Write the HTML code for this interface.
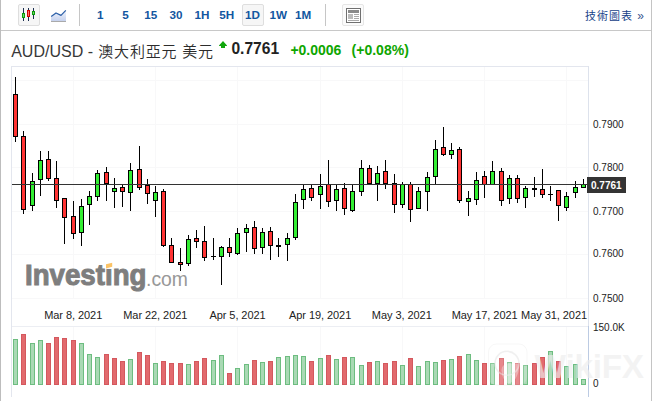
<!DOCTYPE html>
<html><head><meta charset="utf-8"><title>AUD/USD</title>
<style>
html,body{margin:0;padding:0;background:#fff;}
body{width:653px;height:401px;position:relative;overflow:hidden;font-family:"Liberation Sans","Noto Sans CJK TC",sans-serif;}
.abs{position:absolute;white-space:nowrap;}
.tb{position:absolute;top:8px;font-size:11.7px;font-weight:bold;color:#1256a0;line-height:14px;white-space:nowrap;}
.btn{position:absolute;box-sizing:border-box;top:4px;height:22px;width:22px;border:1px solid #dedede;border-radius:2px;background:#f6f6f6;}
.ylab{position:absolute;left:593px;font-size:10px;line-height:10px;color:#222;}
.xlab{position:absolute;top:309px;font-size:11px;line-height:12px;color:#222;letter-spacing:-0.06px;transform:translateX(-50%);white-space:nowrap;}
</style></head><body>
<div class="abs" style="left:0;top:0;width:1px;height:401px;background:#bdbdbd"></div>
<div class="abs" style="left:651px;top:0;width:1px;height:401px;background:#c4c4c4"></div>
<div class="abs" style="left:1px;top:30px;width:650px;height:1px;background:#c8c8c8"></div>
<!-- toolbar -->
<div class="btn" style="left:18px"></div>
<div class="btn" style="left:242px"></div>
<div class="btn" style="left:342px;background:#fbfbfb;border-color:#e6e6e6"></div>
<div class="abs" style="left:79px;top:4px;width:1px;height:22px;background:#c6c6c6"></div>
<div class="abs" style="left:325px;top:4px;width:1px;height:22px;background:#c6c6c6"></div>
<svg class="abs" style="left:0;top:0" width="653" height="31" shape-rendering="crispEdges">
 <g fill="#1c2f50"><rect x="23" y="8" width="1" height="13"/><rect x="28" y="8" width="1" height="13"/><rect x="33" y="8" width="1" height="11"/></g>
 <rect x="22" y="13" width="3" height="5" fill="#0a9a0a"/><rect x="23" y="14" width="1" height="3" fill="#6fd36f"/>
 <rect x="27" y="10" width="3" height="7" fill="#d40000"/><rect x="28" y="11" width="1" height="5" fill="#ff7070"/>
 <rect x="32" y="11" width="3" height="4" fill="#0a9a0a"/><rect x="33" y="12" width="1" height="2" fill="#6fd36f"/>
 <g shape-rendering="auto">
 <defs><linearGradient id="lg" x1="0" y1="0" x2="0" y2="1"><stop offset="0" stop-color="#f1f4fb"/><stop offset="1" stop-color="#c6d2ee"/></linearGradient></defs>
 <path d="M51 21 L51 16.4 L56 13 L61 15.4 L66 10.4 L66 21 Z" fill="url(#lg)"/>
 <rect x="51" y="21" width="15" height="1" fill="#aaa"/>
 <path d="M51.2 16.4 L56 13 L61 15.4 L65.8 10.4" fill="none" stroke="#2c5fa8" stroke-width="1.25" stroke-linejoin="round"/>
 </g>
 <rect x="346" y="8" width="15" height="15" fill="#707070"/><rect x="347" y="9" width="13" height="13" fill="#fff"/>
 <rect x="348" y="10" width="11" height="3" fill="#8a8a8a"/>
 <rect x="348" y="14" width="5" height="5" fill="#bcbcbc"/>
 <rect x="354" y="14" width="5" height="1" fill="#aaa"/><rect x="354" y="16" width="5" height="1" fill="#aaa"/><rect x="354" y="18" width="5" height="1" fill="#aaa"/>
 <rect x="348" y="20" width="11" height="1" fill="#aaa"/>
</svg>
<div class="tb" style="left:97.1px">1</div>
<div class="tb" style="left:122.3px">5</div>
<div class="tb" style="left:144.3px">15</div>
<div class="tb" style="left:169.4px">30</div>
<div class="tb" style="left:194.6px">1H</div>
<div class="tb" style="left:219.3px">5H</div>
<div class="tb" style="left:245.1px">1D</div>
<div class="tb" style="left:269.4px">1W</div>
<div class="tb" style="left:295.1px">1M</div>
<div class="abs" style="left:585px;top:7.9px;font-size:11px;letter-spacing:1px;line-height:16px;color:#163f88;">技術圖表<span style="letter-spacing:0;font-size:12px;color:#3a5590;margin-left:4.3px;position:relative;top:-0.3px">»</span></div>
<!-- title -->
<div class="abs" style="left:11.2px;top:41.5px;font-size:16px;line-height:20px;color:#383838;">AUD/USD - <span style="font-size:15px;font-weight:350;letter-spacing:0.8px;position:relative;top:0.8px;left:0.9px;color:#2c2c2c">澳大利亞元 美元</span></div>
<svg class="abs" style="left:219px;top:41px" width="8" height="7"><path d="M4 0 L8 4.4 L8 5 L6 5 L6 7 L2 7 L2 5 L0 5 L0 4.4 Z" fill="#10a60c"/></svg>
<div class="abs" style="left:231.4px;top:38.7px;font-size:15.6px;line-height:20px;font-weight:bold;color:#222;">0.7761</div>
<div class="abs" style="left:290.4px;top:41.5px;font-size:14px;line-height:16px;font-weight:bold;color:#0ea600;">+0.0006</div>
<div class="abs" style="left:351.6px;top:41.5px;font-size:14px;line-height:16px;font-weight:bold;color:#0ea600;">(+0.08%)</div>
<!-- chart -->
<svg class="abs" style="left:0;top:0" width="653" height="401" shape-rendering="crispEdges">
<rect x="12" y="80" width="576" height="1" fill="#f8f8f9"/>
<rect x="12" y="124" width="576" height="1" fill="#f8f8f9"/>
<rect x="12" y="167" width="576" height="1" fill="#f8f8f9"/>
<rect x="12" y="211" width="576" height="1" fill="#f8f8f9"/>
<rect x="12" y="254" width="576" height="1" fill="#f8f8f9"/>
<rect x="12" y="298" width="576" height="1" fill="#f8f8f9"/>
<rect x="73" y="67" width="1" height="231" fill="#f8f8f9"/>
<rect x="73" y="327" width="1" height="58" fill="#f8f8f9"/>
<rect x="155" y="67" width="1" height="231" fill="#f8f8f9"/>
<rect x="155" y="327" width="1" height="58" fill="#f8f8f9"/>
<rect x="237" y="67" width="1" height="231" fill="#f8f8f9"/>
<rect x="237" y="327" width="1" height="58" fill="#f8f8f9"/>
<rect x="320" y="67" width="1" height="231" fill="#f8f8f9"/>
<rect x="320" y="327" width="1" height="58" fill="#f8f8f9"/>
<rect x="402" y="67" width="1" height="231" fill="#f8f8f9"/>
<rect x="402" y="327" width="1" height="58" fill="#f8f8f9"/>
<rect x="484" y="67" width="1" height="231" fill="#f8f8f9"/>
<rect x="484" y="327" width="1" height="58" fill="#f8f8f9"/>
<rect x="566" y="67" width="1" height="231" fill="#f8f8f9"/>
<rect x="566" y="327" width="1" height="58" fill="#f8f8f9"/>
<rect x="11" y="66" width="578" height="1" fill="#e3e6ee"/>
<rect x="11" y="66" width="1" height="331" fill="#e3e6ee"/>
<rect x="588" y="66" width="1" height="260" fill="#dde2ec"/>
<rect x="588" y="326" width="1" height="71" fill="#bccbe3"/>
<rect x="12" y="326" width="576" height="1" fill="#eceef3"/>
<rect x="15" y="77" width="1" height="65" fill="#000"/>
<rect x="13" y="94" width="5" height="43" fill="#000"/>
<rect x="14" y="95" width="3" height="41" fill="#ff3333"/>
<rect x="23" y="131" width="1" height="83" fill="#000"/>
<rect x="21" y="136" width="5" height="74" fill="#000"/>
<rect x="22" y="137" width="3" height="72" fill="#ff3333"/>
<rect x="32" y="173" width="1" height="38" fill="#000"/>
<rect x="30" y="181" width="5" height="25" fill="#000"/>
<rect x="31" y="182" width="3" height="23" fill="#33ee33"/>
<rect x="40" y="151" width="1" height="45" fill="#000"/>
<rect x="38" y="160" width="5" height="20" fill="#000"/>
<rect x="39" y="161" width="3" height="18" fill="#33ee33"/>
<rect x="48" y="151" width="1" height="30" fill="#000"/>
<rect x="46" y="159" width="5" height="20" fill="#000"/>
<rect x="47" y="160" width="3" height="18" fill="#ff3333"/>
<rect x="56" y="161" width="1" height="47" fill="#000"/>
<rect x="54" y="178" width="5" height="23" fill="#000"/>
<rect x="55" y="179" width="3" height="21" fill="#ff3333"/>
<rect x="64" y="198" width="1" height="46" fill="#000"/>
<rect x="62" y="198" width="5" height="20" fill="#000"/>
<rect x="63" y="199" width="3" height="18" fill="#ff3333"/>
<rect x="73" y="201" width="1" height="38" fill="#000"/>
<rect x="71" y="216" width="5" height="18" fill="#000"/>
<rect x="72" y="217" width="3" height="16" fill="#ff3333"/>
<rect x="81" y="199" width="1" height="47" fill="#000"/>
<rect x="79" y="206" width="5" height="27" fill="#000"/>
<rect x="80" y="207" width="3" height="25" fill="#33ee33"/>
<rect x="89" y="191" width="1" height="34" fill="#000"/>
<rect x="87" y="196" width="5" height="9" fill="#000"/>
<rect x="88" y="197" width="3" height="7" fill="#33ee33"/>
<rect x="97" y="170" width="1" height="31" fill="#000"/>
<rect x="95" y="173" width="5" height="24" fill="#000"/>
<rect x="96" y="174" width="3" height="22" fill="#33ee33"/>
<rect x="106" y="167" width="1" height="34" fill="#000"/>
<rect x="104" y="172" width="5" height="12" fill="#000"/>
<rect x="105" y="173" width="3" height="10" fill="#ff3333"/>
<rect x="114" y="178" width="1" height="30" fill="#000"/>
<rect x="112" y="188" width="5" height="4" fill="#000"/>
<rect x="113" y="189" width="3" height="2" fill="#33ee33"/>
<rect x="122" y="185" width="1" height="22" fill="#000"/>
<rect x="120" y="187" width="5" height="5" fill="#000"/>
<rect x="121" y="188" width="3" height="3" fill="#ff3333"/>
<rect x="130" y="163" width="1" height="48" fill="#000"/>
<rect x="128" y="170" width="5" height="23" fill="#000"/>
<rect x="129" y="171" width="3" height="21" fill="#33ee33"/>
<rect x="139" y="146" width="1" height="44" fill="#000"/>
<rect x="137" y="169" width="5" height="19" fill="#000"/>
<rect x="138" y="170" width="3" height="17" fill="#ff3333"/>
<rect x="147" y="179" width="1" height="25" fill="#000"/>
<rect x="145" y="185" width="5" height="9" fill="#000"/>
<rect x="146" y="186" width="3" height="7" fill="#ff3333"/>
<rect x="155" y="186" width="1" height="31" fill="#000"/>
<rect x="153" y="192" width="5" height="9" fill="#000"/>
<rect x="154" y="193" width="3" height="7" fill="#33ee33"/>
<rect x="163" y="189" width="1" height="58" fill="#000"/>
<rect x="161" y="191" width="5" height="55" fill="#000"/>
<rect x="162" y="192" width="3" height="53" fill="#ff3333"/>
<rect x="171" y="238" width="1" height="25" fill="#000"/>
<rect x="169" y="245" width="5" height="18" fill="#000"/>
<rect x="170" y="246" width="3" height="16" fill="#ff3333"/>
<rect x="180" y="248" width="1" height="23" fill="#000"/>
<rect x="178" y="262" width="5" height="3" fill="#000"/>
<rect x="179" y="263" width="3" height="1" fill="#ff3333"/>
<rect x="188" y="235" width="1" height="31" fill="#000"/>
<rect x="186" y="239" width="5" height="25" fill="#000"/>
<rect x="187" y="240" width="3" height="23" fill="#33ee33"/>
<rect x="196" y="230" width="1" height="18" fill="#000"/>
<rect x="194" y="238" width="5" height="4" fill="#000"/>
<rect x="195" y="239" width="3" height="2" fill="#ff3333"/>
<rect x="204" y="226" width="1" height="35" fill="#000"/>
<rect x="202" y="241" width="5" height="17" fill="#000"/>
<rect x="203" y="242" width="3" height="15" fill="#ff3333"/>
<rect x="213" y="238" width="1" height="22" fill="#000"/>
<rect x="211" y="256" width="5" height="1" fill="#000"/>
<rect x="221" y="246" width="1" height="39" fill="#000"/>
<rect x="219" y="247" width="5" height="10" fill="#000"/>
<rect x="220" y="248" width="3" height="8" fill="#33ee33"/>
<rect x="229" y="238" width="1" height="19" fill="#000"/>
<rect x="227" y="247" width="5" height="6" fill="#000"/>
<rect x="228" y="248" width="3" height="4" fill="#ff3333"/>
<rect x="237" y="228" width="1" height="27" fill="#000"/>
<rect x="235" y="233" width="5" height="21" fill="#000"/>
<rect x="236" y="234" width="3" height="19" fill="#33ee33"/>
<rect x="246" y="224" width="1" height="28" fill="#000"/>
<rect x="244" y="228" width="5" height="5" fill="#000"/>
<rect x="245" y="229" width="3" height="3" fill="#33ee33"/>
<rect x="254" y="221" width="1" height="33" fill="#000"/>
<rect x="252" y="227" width="5" height="22" fill="#000"/>
<rect x="253" y="228" width="3" height="20" fill="#ff3333"/>
<rect x="262" y="228" width="1" height="26" fill="#000"/>
<rect x="260" y="232" width="5" height="16" fill="#000"/>
<rect x="261" y="233" width="3" height="14" fill="#33ee33"/>
<rect x="270" y="227" width="1" height="33" fill="#000"/>
<rect x="268" y="231" width="5" height="15" fill="#000"/>
<rect x="269" y="232" width="3" height="13" fill="#ff3333"/>
<rect x="278" y="238" width="1" height="19" fill="#000"/>
<rect x="276" y="245" width="5" height="2" fill="#000"/>
<rect x="287" y="233" width="1" height="28" fill="#000"/>
<rect x="285" y="238" width="5" height="7" fill="#000"/>
<rect x="286" y="239" width="3" height="5" fill="#33ee33"/>
<rect x="295" y="194" width="1" height="46" fill="#000"/>
<rect x="293" y="202" width="5" height="36" fill="#000"/>
<rect x="294" y="203" width="3" height="34" fill="#33ee33"/>
<rect x="303" y="184" width="1" height="25" fill="#000"/>
<rect x="301" y="189" width="5" height="11" fill="#000"/>
<rect x="302" y="190" width="3" height="9" fill="#33ee33"/>
<rect x="311" y="185" width="1" height="16" fill="#000"/>
<rect x="309" y="188" width="5" height="10" fill="#000"/>
<rect x="310" y="189" width="3" height="8" fill="#ff3333"/>
<rect x="320" y="174" width="1" height="35" fill="#000"/>
<rect x="318" y="186" width="5" height="9" fill="#000"/>
<rect x="319" y="187" width="3" height="7" fill="#33ee33"/>
<rect x="328" y="160" width="1" height="47" fill="#000"/>
<rect x="326" y="184" width="5" height="18" fill="#000"/>
<rect x="327" y="185" width="3" height="16" fill="#ff3333"/>
<rect x="336" y="184" width="1" height="27" fill="#000"/>
<rect x="334" y="189" width="5" height="12" fill="#000"/>
<rect x="335" y="190" width="3" height="10" fill="#33ee33"/>
<rect x="344" y="183" width="1" height="32" fill="#000"/>
<rect x="342" y="188" width="5" height="21" fill="#000"/>
<rect x="343" y="189" width="3" height="19" fill="#ff3333"/>
<rect x="352" y="184" width="1" height="28" fill="#000"/>
<rect x="350" y="191" width="5" height="20" fill="#000"/>
<rect x="351" y="192" width="3" height="18" fill="#33ee33"/>
<rect x="361" y="160" width="1" height="36" fill="#000"/>
<rect x="359" y="168" width="5" height="24" fill="#000"/>
<rect x="360" y="169" width="3" height="22" fill="#33ee33"/>
<rect x="369" y="165" width="1" height="19" fill="#000"/>
<rect x="367" y="168" width="5" height="16" fill="#000"/>
<rect x="368" y="169" width="3" height="14" fill="#ff3333"/>
<rect x="377" y="166" width="1" height="35" fill="#000"/>
<rect x="375" y="173" width="5" height="11" fill="#000"/>
<rect x="376" y="174" width="3" height="9" fill="#33ee33"/>
<rect x="385" y="160" width="1" height="29" fill="#000"/>
<rect x="383" y="171" width="5" height="13" fill="#000"/>
<rect x="384" y="172" width="3" height="11" fill="#ff3333"/>
<rect x="394" y="174" width="1" height="39" fill="#000"/>
<rect x="392" y="183" width="5" height="22" fill="#000"/>
<rect x="393" y="184" width="3" height="20" fill="#ff3333"/>
<rect x="402" y="182" width="1" height="26" fill="#000"/>
<rect x="400" y="184" width="5" height="21" fill="#000"/>
<rect x="401" y="185" width="3" height="19" fill="#33ee33"/>
<rect x="410" y="182" width="1" height="40" fill="#000"/>
<rect x="408" y="184" width="5" height="26" fill="#000"/>
<rect x="409" y="185" width="3" height="24" fill="#ff3333"/>
<rect x="418" y="187" width="1" height="22" fill="#000"/>
<rect x="416" y="191" width="5" height="18" fill="#000"/>
<rect x="417" y="192" width="3" height="16" fill="#33ee33"/>
<rect x="427" y="172" width="1" height="39" fill="#000"/>
<rect x="425" y="177" width="5" height="15" fill="#000"/>
<rect x="426" y="178" width="3" height="13" fill="#33ee33"/>
<rect x="435" y="140" width="1" height="44" fill="#000"/>
<rect x="433" y="149" width="5" height="28" fill="#000"/>
<rect x="434" y="150" width="3" height="26" fill="#33ee33"/>
<rect x="443" y="127" width="1" height="29" fill="#000"/>
<rect x="441" y="147" width="5" height="8" fill="#000"/>
<rect x="442" y="148" width="3" height="6" fill="#ff3333"/>
<rect x="451" y="143" width="1" height="16" fill="#000"/>
<rect x="449" y="150" width="5" height="5" fill="#000"/>
<rect x="450" y="151" width="3" height="3" fill="#33ee33"/>
<rect x="459" y="147" width="1" height="56" fill="#000"/>
<rect x="457" y="149" width="5" height="52" fill="#000"/>
<rect x="458" y="150" width="3" height="50" fill="#ff3333"/>
<rect x="468" y="191" width="1" height="25" fill="#000"/>
<rect x="466" y="198" width="5" height="4" fill="#000"/>
<rect x="467" y="199" width="3" height="2" fill="#33ee33"/>
<rect x="476" y="172" width="1" height="33" fill="#000"/>
<rect x="474" y="180" width="5" height="20" fill="#000"/>
<rect x="475" y="181" width="3" height="18" fill="#33ee33"/>
<rect x="484" y="171" width="1" height="27" fill="#000"/>
<rect x="482" y="176" width="5" height="9" fill="#000"/>
<rect x="483" y="177" width="3" height="7" fill="#ff3333"/>
<rect x="492" y="161" width="1" height="24" fill="#000"/>
<rect x="490" y="171" width="5" height="14" fill="#000"/>
<rect x="491" y="172" width="3" height="12" fill="#33ee33"/>
<rect x="501" y="168" width="1" height="38" fill="#000"/>
<rect x="499" y="171" width="5" height="30" fill="#000"/>
<rect x="500" y="172" width="3" height="28" fill="#ff3333"/>
<rect x="509" y="175" width="1" height="29" fill="#000"/>
<rect x="507" y="178" width="5" height="21" fill="#000"/>
<rect x="508" y="179" width="3" height="19" fill="#33ee33"/>
<rect x="517" y="175" width="1" height="28" fill="#000"/>
<rect x="515" y="178" width="5" height="21" fill="#000"/>
<rect x="516" y="179" width="3" height="19" fill="#ff3333"/>
<rect x="525" y="186" width="1" height="22" fill="#000"/>
<rect x="523" y="188" width="5" height="10" fill="#000"/>
<rect x="524" y="189" width="3" height="8" fill="#33ee33"/>
<rect x="534" y="177" width="1" height="20" fill="#000"/>
<rect x="532" y="188" width="5" height="2" fill="#000"/>
<rect x="542" y="169" width="1" height="29" fill="#000"/>
<rect x="540" y="189" width="5" height="6" fill="#000"/>
<rect x="541" y="190" width="3" height="4" fill="#ff3333"/>
<rect x="550" y="186" width="1" height="15" fill="#000"/>
<rect x="548" y="194" width="5" height="1" fill="#000"/>
<rect x="558" y="190" width="1" height="31" fill="#000"/>
<rect x="556" y="190" width="5" height="16" fill="#000"/>
<rect x="557" y="191" width="3" height="14" fill="#ff3333"/>
<rect x="566" y="192" width="1" height="19" fill="#000"/>
<rect x="564" y="196" width="5" height="12" fill="#000"/>
<rect x="565" y="197" width="3" height="10" fill="#33ee33"/>
<rect x="575" y="181" width="1" height="17" fill="#000"/>
<rect x="573" y="187" width="5" height="6" fill="#000"/>
<rect x="574" y="188" width="3" height="4" fill="#33ee33"/>
<rect x="583" y="179" width="1" height="9" fill="#000"/>
<rect x="581" y="184" width="5" height="4" fill="#000"/>
<rect x="582" y="185" width="3" height="2" fill="#33ee33"/>
<rect x="12" y="184" width="576" height="1" fill="#333"/>
<rect x="13" y="339" width="5" height="46" fill="#6dbd80"/>
<rect x="14" y="340" width="3" height="44" fill="#a9d9b4"/>
<rect x="21" y="334" width="5" height="51" fill="#d4585e"/>
<rect x="22" y="335" width="3" height="49" fill="#e26a6e"/>
<rect x="30" y="343" width="5" height="42" fill="#6dbd80"/>
<rect x="31" y="344" width="3" height="40" fill="#a9d9b4"/>
<rect x="38" y="340" width="5" height="45" fill="#6dbd80"/>
<rect x="39" y="341" width="3" height="43" fill="#a9d9b4"/>
<rect x="46" y="343" width="5" height="42" fill="#d4585e"/>
<rect x="47" y="344" width="3" height="40" fill="#e26a6e"/>
<rect x="54" y="337" width="5" height="48" fill="#d4585e"/>
<rect x="55" y="338" width="3" height="46" fill="#e26a6e"/>
<rect x="62" y="338" width="5" height="47" fill="#d4585e"/>
<rect x="63" y="339" width="3" height="45" fill="#e26a6e"/>
<rect x="71" y="340" width="5" height="45" fill="#d4585e"/>
<rect x="72" y="341" width="3" height="43" fill="#e26a6e"/>
<rect x="79" y="343" width="5" height="42" fill="#6dbd80"/>
<rect x="80" y="344" width="3" height="40" fill="#a9d9b4"/>
<rect x="87" y="354" width="5" height="31" fill="#6dbd80"/>
<rect x="88" y="355" width="3" height="29" fill="#a9d9b4"/>
<rect x="95" y="357" width="5" height="28" fill="#6dbd80"/>
<rect x="96" y="358" width="3" height="26" fill="#a9d9b4"/>
<rect x="104" y="354" width="5" height="31" fill="#d4585e"/>
<rect x="105" y="355" width="3" height="29" fill="#e26a6e"/>
<rect x="112" y="358" width="5" height="27" fill="#d4585e"/>
<rect x="113" y="359" width="3" height="25" fill="#e26a6e"/>
<rect x="120" y="361" width="5" height="24" fill="#d4585e"/>
<rect x="121" y="362" width="3" height="22" fill="#e26a6e"/>
<rect x="128" y="359" width="5" height="26" fill="#6dbd80"/>
<rect x="129" y="360" width="3" height="24" fill="#a9d9b4"/>
<rect x="137" y="352" width="5" height="33" fill="#d4585e"/>
<rect x="138" y="353" width="3" height="31" fill="#e26a6e"/>
<rect x="145" y="355" width="5" height="30" fill="#d4585e"/>
<rect x="146" y="356" width="3" height="28" fill="#e26a6e"/>
<rect x="153" y="363" width="5" height="22" fill="#6dbd80"/>
<rect x="154" y="364" width="3" height="20" fill="#a9d9b4"/>
<rect x="161" y="361" width="5" height="24" fill="#d4585e"/>
<rect x="162" y="362" width="3" height="22" fill="#e26a6e"/>
<rect x="169" y="363" width="5" height="22" fill="#d4585e"/>
<rect x="170" y="364" width="3" height="20" fill="#e26a6e"/>
<rect x="178" y="363" width="5" height="22" fill="#d4585e"/>
<rect x="179" y="364" width="3" height="20" fill="#e26a6e"/>
<rect x="186" y="364" width="5" height="21" fill="#6dbd80"/>
<rect x="187" y="365" width="3" height="19" fill="#a9d9b4"/>
<rect x="194" y="361" width="5" height="24" fill="#d4585e"/>
<rect x="195" y="362" width="3" height="22" fill="#e26a6e"/>
<rect x="202" y="358" width="5" height="27" fill="#d4585e"/>
<rect x="203" y="359" width="3" height="25" fill="#e26a6e"/>
<rect x="211" y="360" width="5" height="25" fill="#6dbd80"/>
<rect x="212" y="361" width="3" height="23" fill="#a9d9b4"/>
<rect x="219" y="355" width="5" height="30" fill="#6dbd80"/>
<rect x="220" y="356" width="3" height="28" fill="#a9d9b4"/>
<rect x="227" y="373" width="5" height="12" fill="#d4585e"/>
<rect x="228" y="374" width="3" height="10" fill="#e26a6e"/>
<rect x="235" y="368" width="5" height="17" fill="#6dbd80"/>
<rect x="236" y="369" width="3" height="15" fill="#a9d9b4"/>
<rect x="244" y="364" width="5" height="21" fill="#6dbd80"/>
<rect x="245" y="365" width="3" height="19" fill="#a9d9b4"/>
<rect x="252" y="360" width="5" height="25" fill="#d4585e"/>
<rect x="253" y="361" width="3" height="23" fill="#e26a6e"/>
<rect x="260" y="362" width="5" height="23" fill="#6dbd80"/>
<rect x="261" y="363" width="3" height="21" fill="#a9d9b4"/>
<rect x="268" y="361" width="5" height="24" fill="#d4585e"/>
<rect x="269" y="362" width="3" height="22" fill="#e26a6e"/>
<rect x="276" y="357" width="5" height="28" fill="#6dbd80"/>
<rect x="277" y="358" width="3" height="26" fill="#a9d9b4"/>
<rect x="285" y="356" width="5" height="29" fill="#6dbd80"/>
<rect x="286" y="357" width="3" height="27" fill="#a9d9b4"/>
<rect x="293" y="355" width="5" height="30" fill="#6dbd80"/>
<rect x="294" y="356" width="3" height="28" fill="#a9d9b4"/>
<rect x="301" y="356" width="5" height="29" fill="#6dbd80"/>
<rect x="302" y="357" width="3" height="27" fill="#a9d9b4"/>
<rect x="309" y="361" width="5" height="24" fill="#d4585e"/>
<rect x="310" y="362" width="3" height="22" fill="#e26a6e"/>
<rect x="318" y="358" width="5" height="27" fill="#6dbd80"/>
<rect x="319" y="359" width="3" height="25" fill="#a9d9b4"/>
<rect x="326" y="355" width="5" height="30" fill="#d4585e"/>
<rect x="327" y="356" width="3" height="28" fill="#e26a6e"/>
<rect x="334" y="359" width="5" height="26" fill="#6dbd80"/>
<rect x="335" y="360" width="3" height="24" fill="#a9d9b4"/>
<rect x="342" y="357" width="5" height="28" fill="#d4585e"/>
<rect x="343" y="358" width="3" height="26" fill="#e26a6e"/>
<rect x="350" y="357" width="5" height="28" fill="#6dbd80"/>
<rect x="351" y="358" width="3" height="26" fill="#a9d9b4"/>
<rect x="359" y="365" width="5" height="20" fill="#6dbd80"/>
<rect x="360" y="366" width="3" height="18" fill="#a9d9b4"/>
<rect x="367" y="362" width="5" height="23" fill="#d4585e"/>
<rect x="368" y="363" width="3" height="21" fill="#e26a6e"/>
<rect x="375" y="361" width="5" height="24" fill="#6dbd80"/>
<rect x="376" y="362" width="3" height="22" fill="#a9d9b4"/>
<rect x="383" y="363" width="5" height="22" fill="#d4585e"/>
<rect x="384" y="364" width="3" height="20" fill="#e26a6e"/>
<rect x="392" y="361" width="5" height="24" fill="#d4585e"/>
<rect x="393" y="362" width="3" height="22" fill="#e26a6e"/>
<rect x="400" y="365" width="5" height="20" fill="#6dbd80"/>
<rect x="401" y="366" width="3" height="18" fill="#a9d9b4"/>
<rect x="408" y="358" width="5" height="27" fill="#d4585e"/>
<rect x="409" y="359" width="3" height="25" fill="#e26a6e"/>
<rect x="416" y="366" width="5" height="19" fill="#6dbd80"/>
<rect x="417" y="367" width="3" height="17" fill="#a9d9b4"/>
<rect x="425" y="361" width="5" height="24" fill="#6dbd80"/>
<rect x="426" y="362" width="3" height="22" fill="#a9d9b4"/>
<rect x="433" y="362" width="5" height="23" fill="#6dbd80"/>
<rect x="434" y="363" width="3" height="21" fill="#a9d9b4"/>
<rect x="441" y="360" width="5" height="25" fill="#d4585e"/>
<rect x="442" y="361" width="3" height="23" fill="#e26a6e"/>
<rect x="449" y="359" width="5" height="26" fill="#6dbd80"/>
<rect x="450" y="360" width="3" height="24" fill="#a9d9b4"/>
<rect x="457" y="356" width="5" height="29" fill="#d4585e"/>
<rect x="458" y="357" width="3" height="27" fill="#e26a6e"/>
<rect x="466" y="354" width="5" height="31" fill="#6dbd80"/>
<rect x="467" y="355" width="3" height="29" fill="#a9d9b4"/>
<rect x="474" y="360" width="5" height="25" fill="#6dbd80"/>
<rect x="475" y="361" width="3" height="23" fill="#a9d9b4"/>
<rect x="482" y="363" width="5" height="22" fill="#d4585e"/>
<rect x="483" y="364" width="3" height="20" fill="#e26a6e"/>
<rect x="490" y="363" width="5" height="22" fill="#6dbd80"/>
<rect x="491" y="364" width="3" height="20" fill="#a9d9b4"/>
<rect x="499" y="358" width="5" height="27" fill="#d4585e"/>
<rect x="500" y="359" width="3" height="25" fill="#e26a6e"/>
<rect x="507" y="362" width="5" height="23" fill="#6dbd80"/>
<rect x="508" y="363" width="3" height="21" fill="#a9d9b4"/>
<rect x="515" y="363" width="5" height="22" fill="#d4585e"/>
<rect x="516" y="364" width="3" height="20" fill="#e26a6e"/>
<rect x="523" y="365" width="5" height="20" fill="#6dbd80"/>
<rect x="524" y="366" width="3" height="18" fill="#a9d9b4"/>
<rect x="532" y="363" width="5" height="22" fill="#d4585e"/>
<rect x="533" y="364" width="3" height="20" fill="#e26a6e"/>
<rect x="540" y="357" width="5" height="28" fill="#d4585e"/>
<rect x="541" y="358" width="3" height="26" fill="#e26a6e"/>
<rect x="548" y="351" width="5" height="34" fill="#6dbd80"/>
<rect x="549" y="352" width="3" height="32" fill="#a9d9b4"/>
<rect x="556" y="361" width="5" height="24" fill="#d4585e"/>
<rect x="557" y="362" width="3" height="22" fill="#e26a6e"/>
<rect x="564" y="366" width="5" height="19" fill="#6dbd80"/>
<rect x="565" y="367" width="3" height="17" fill="#a9d9b4"/>
<rect x="573" y="364" width="5" height="21" fill="#6dbd80"/>
<rect x="574" y="365" width="3" height="19" fill="#a9d9b4"/>
<rect x="581" y="379" width="5" height="6" fill="#6dbd80"/>
<rect x="582" y="380" width="3" height="4" fill="#a9d9b4"/>
<rect x="587" y="177" width="39" height="16" fill="#343434"/>
</svg>
<!-- logo -->
<div class="abs" id="logo1" style="left:25.3px;top:258.3px;font-size:29.6px;line-height:34px;font-weight:bold;color:#7e7e7e;-webkit-text-stroke:1.05px #7e7e7e;transform:scaleX(0.935);transform-origin:0 0;">Investing</div>
<div class="abs" id="logo2" style="left:146.3px;top:267.2px;font-size:20.4px;line-height:24px;color:#989898;transform:scaleX(0.95);transform-origin:0 0;">.com</div>
<svg class="abs" style="left:104px;top:260px" width="10" height="10"><rect x="1.4" y="0.5" width="7.4" height="8.4" fill="#fff"/><path d="M2 4.25 L8.2 2.75 L8.2 6.75 L2 8.5 Z" fill="#fbc366"/></svg>
<!-- axis labels -->
<div class="ylab" style="top:119.5px">0.7900</div>
<div class="ylab" style="top:162.6px">0.7800</div>
<div class="ylab" style="top:206.6px">0.7700</div>
<div class="ylab" style="top:249.2px">0.7600</div>
<div class="ylab" style="top:293.8px">0.7500</div>
<div class="ylab" style="top:322.6px">150.0K</div>
<div class="ylab" style="top:379.3px">0</div>
<div class="abs" style="left:591px;top:179.5px;font-size:10px;line-height:12px;font-weight:bold;color:#fff;">0.7761</div>
<div class="xlab" style="left:73.2px">Mar 8, 2021</div>
<div class="xlab" style="left:155.3px">Mar 22, 2021</div>
<div class="xlab" style="left:237.5px">Apr 5, 2021</div>
<div class="xlab" style="left:320.1px">Apr 19, 2021</div>
<div class="xlab" style="left:401.8px">May 3, 2021</div>
<div class="xlab" style="left:484.6px">May 17, 2021</div>
<div class="xlab" style="left:549px;transform:none;left:auto;right:66px">May 31, 2021</div>
<!-- watermark -->
<div class="abs" style="left:534.6px;top:348.5px;font-size:33.4px;line-height:36px;font-weight:bold;color:rgba(238,238,238,0.68);letter-spacing:-0.3px;">WikiFX</div>
<svg class="abs" style="left:484px;top:340px" width="50" height="50"><rect x="4.5" y="4" width="38.5" height="41" rx="8" fill="rgba(255,255,255,0.2)" stroke="rgba(205,205,205,0.16)" stroke-width="1"/><circle cx="23" cy="23.3" r="12" fill="none" stroke="rgba(228,228,228,0.55)" stroke-width="1.6"/><path d="M17.5 30 Q18 24 24 23.5 L34 23.5 Q36 30 33 36 Q30 43 24 43.5 Q18 40 17.5 30 Z" fill="rgba(255,255,255,0.33)"/></svg>
</body></html>
